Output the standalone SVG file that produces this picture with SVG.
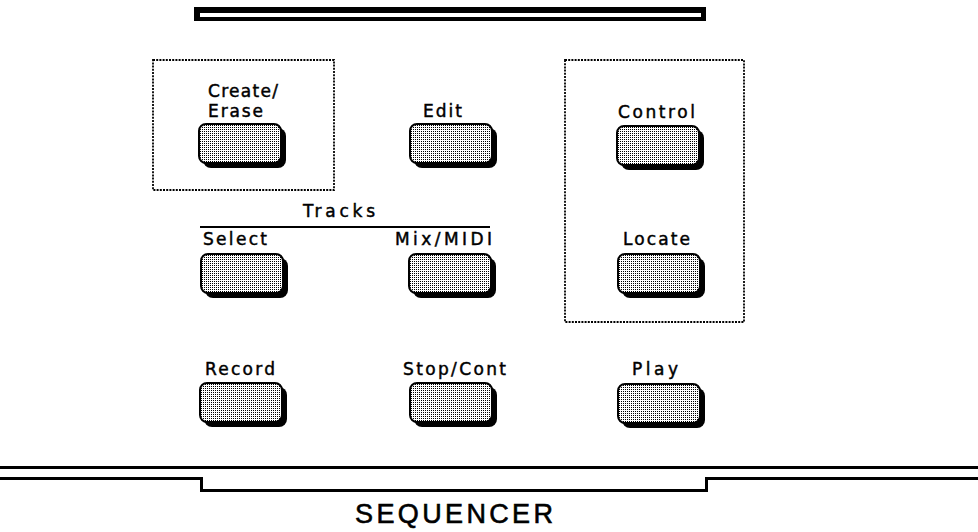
<svg xmlns="http://www.w3.org/2000/svg" xmlns:xlink="http://www.w3.org/1999/xlink" width="978" height="532" viewBox="0 0 978 532">
  <style>
    .lbl { font-family: "DejaVu Sans", "Liberation Sans", sans-serif; font-size: 17px; fill: #000; stroke: #000; stroke-width: 0.45; }
    .title { font-family: "Liberation Sans", "DejaVu Sans", sans-serif; font-size: 27px; fill: #000; stroke: #000; stroke-width: 0.6; }
    .dotbox { fill: none; stroke: #000; stroke-width: 1.8; stroke-dasharray: 2 1.2; }
    .rule { fill: none; stroke: #000; stroke-width: 3; }
  </style>
  <defs>
    <pattern id="dots" width="2" height="2" patternUnits="userSpaceOnUse">
      <rect width="2" height="2" fill="#fff"/>
      <rect width="1" height="1" fill="#000"/>
    </pattern>
    <g id="btn">
      <rect x="5" y="5" width="83" height="40" rx="8" ry="8" fill="#000"/>
      <rect x="1" y="1" width="82" height="39" rx="7" ry="7" fill="url(#dots)" stroke="#000" stroke-width="2"/>
    </g>
  </defs>
  <rect width="978" height="532" fill="#fff"/>

  <!-- top bar -->
  <g id="topbar">
    <rect x="194" y="7" width="512" height="14" fill="#000"/>
    <rect x="200" y="13" width="501" height="4" fill="#fff"/>
  </g>

  <!-- dotted groups -->
  <g id="group-create">
    <rect class="dotbox" x="153" y="60" width="181" height="130"/>
  </g>
  <g id="group-control">
    <rect class="dotbox" x="565" y="60" width="179" height="262"/>
  </g>

  <!-- tracks header -->
  <g id="tracks-header">
    <text class="lbl" x="303" y="217" textLength="72" lengthAdjust="spacing">Tracks</text>
    <line x1="200" y1="227" x2="490" y2="227" stroke="#000" stroke-width="2"/>
  </g>

  <g id="btn-create-erase">
    <text class="lbl" x="208" y="97" textLength="70" lengthAdjust="spacing">Create/</text>
    <text class="lbl" x="208" y="117" textLength="55" lengthAdjust="spacing">Erase</text>
    <use xlink:href="#btn" x="198" y="123"/>
  </g>
  <g id="btn-edit">
    <text class="lbl" x="423" y="117" textLength="39" lengthAdjust="spacing">Edit</text>
    <use xlink:href="#btn" x="409" y="123"/>
  </g>
  <g id="btn-control">
    <text class="lbl" x="618" y="118" textLength="77" lengthAdjust="spacing">Control</text>
    <use xlink:href="#btn" x="616" y="125"/>
  </g>
  <g id="btn-select">
    <text class="lbl" x="203" y="245" textLength="64" lengthAdjust="spacing">Select</text>
    <use xlink:href="#btn" x="200" y="253"/>
  </g>
  <g id="btn-mix-midi">
    <text class="lbl" x="395" y="245" textLength="97" lengthAdjust="spacing">Mix/MIDI</text>
    <use xlink:href="#btn" x="408" y="253"/>
  </g>
  <g id="btn-locate">
    <text class="lbl" x="623" y="245" textLength="67" lengthAdjust="spacing">Locate</text>
    <use xlink:href="#btn" x="617" y="253"/>
  </g>
  <g id="btn-record">
    <text class="lbl" x="205" y="375" textLength="70" lengthAdjust="spacing">Record</text>
    <use xlink:href="#btn" x="199" y="382"/>
  </g>
  <g id="btn-stop-cont">
    <text class="lbl" x="403" y="375" textLength="103" lengthAdjust="spacing">Stop/Cont</text>
    <use xlink:href="#btn" x="409" y="382"/>
  </g>
  <g id="btn-play">
    <text class="lbl" x="632" y="375" textLength="46" lengthAdjust="spacing">Play</text>
    <use xlink:href="#btn" x="617" y="383"/>
  </g>

  <!-- bottom panel edge -->
  <g id="panel-edge">
    <line class="rule" x1="0" y1="467.5" x2="978" y2="467.5"/>
    <polyline class="rule" points="0,478.5 201.5,478.5 201.5,490.5 706.5,490.5 706.5,478.5 978,478.5"/>
    <text class="title" x="355" y="523" textLength="198" lengthAdjust="spacing">SEQUENCER</text>
  </g>
</svg>
